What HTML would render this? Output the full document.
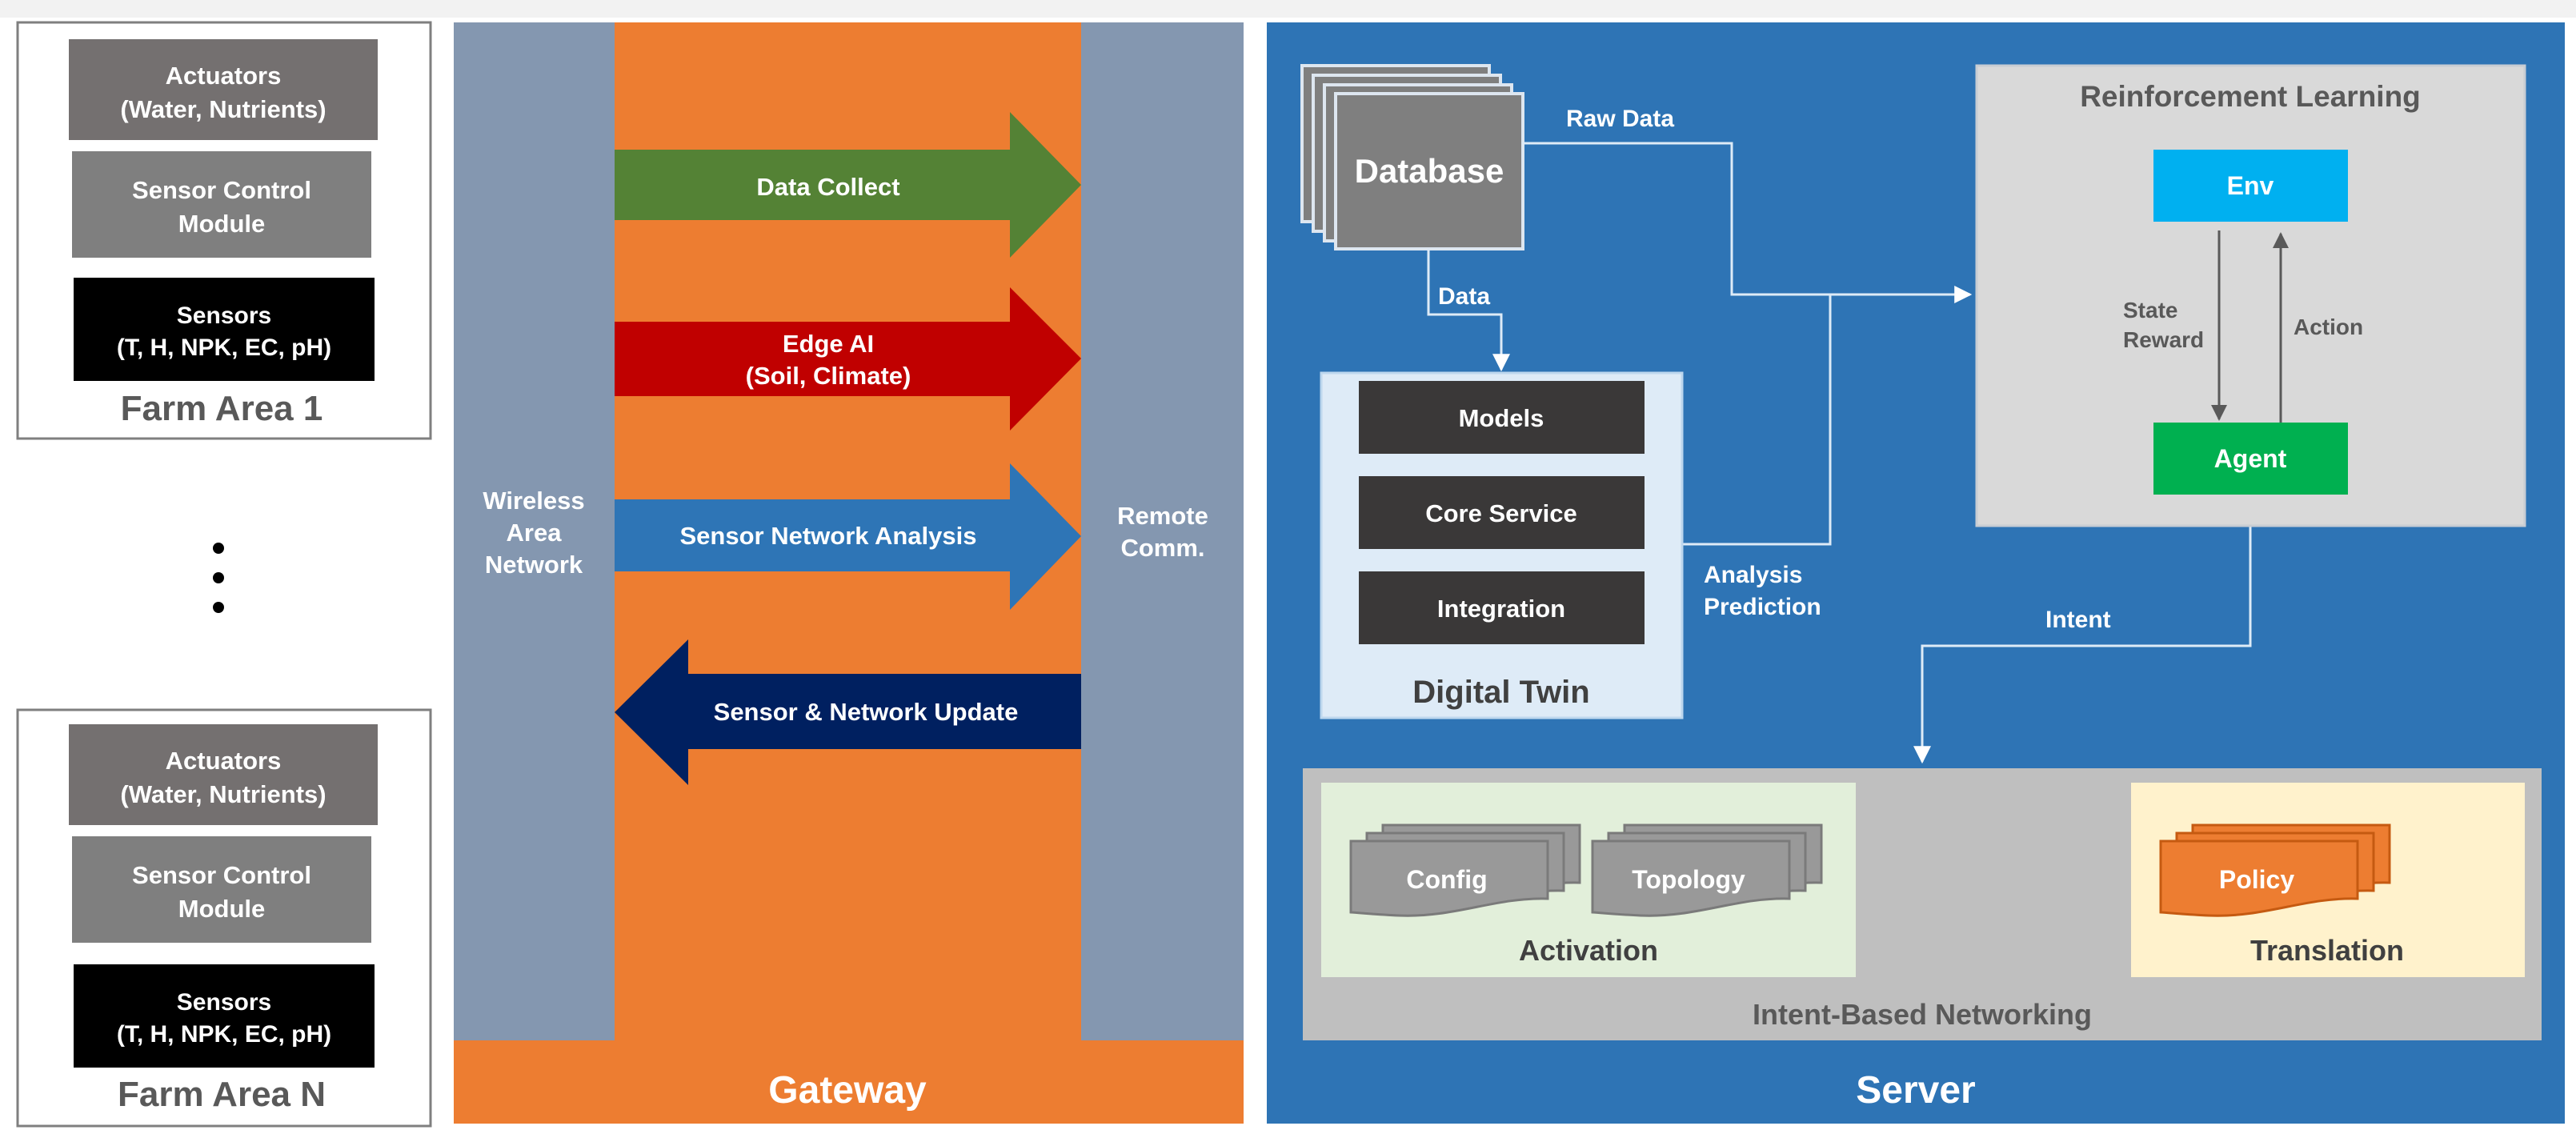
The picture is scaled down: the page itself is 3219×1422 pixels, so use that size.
<!DOCTYPE html>
<html><head><meta charset="utf-8"><style>
html,body{margin:0;padding:0;background:#fff;}
svg{display:block;}
text{font-family:"Liberation Sans","DejaVu Sans",sans-serif;font-weight:bold;}
</style></head><body>
<svg width="3219" height="1422" viewBox="0 0 3219 1422" xmlns="http://www.w3.org/2000/svg">
<defs>
<path id="doc" d="M0,0 H246 V72 C180,70 130,96 60,93 C35,92 15,90 0,89 Z"/>
<marker id="ah" markerWidth="10" markerHeight="10" refX="8" refY="5" orient="auto" markerUnits="userSpaceOnUse"><path d="M0,0 L10,5 L0,10 Z" fill="#fff"/></marker>
<marker id="ahw" viewBox="0 0 10 10" markerWidth="22" markerHeight="22" refX="9" refY="5" orient="auto" markerUnits="userSpaceOnUse"><path d="M0,0 L10,5 L0,10 Z" fill="#fff"/></marker>
<marker id="ahg" viewBox="0 0 10 10" markerWidth="20" markerHeight="20" refX="9" refY="5" orient="auto" markerUnits="userSpaceOnUse"><path d="M0,0 L10,5 L0,10 Z" fill="#595959"/></marker>
</defs>
<rect x="0" y="0" width="3219" height="22" fill="#f2f2f2"/>

<!-- Farm Area 1 -->
<rect x="22" y="28" width="516" height="520" fill="#fff" stroke="#7f7f7f" stroke-width="3"/>
<rect x="86" y="49" width="386" height="126" fill="#747070"/>
<text x="279" y="105" font-size="31" fill="#fff" text-anchor="middle">Actuators</text>
<text x="279" y="147" font-size="31" fill="#fff" text-anchor="middle">(Water, Nutrients)</text>
<rect x="90" y="189" width="374" height="133" fill="#7f7f7f"/>
<text x="277" y="248" font-size="31" fill="#fff" text-anchor="middle">Sensor Control</text>
<text x="277" y="290" font-size="31" fill="#fff" text-anchor="middle">Module</text>
<rect x="92" y="347" width="376" height="129" fill="#000"/>
<text x="280" y="404" font-size="30" fill="#fff" text-anchor="middle">Sensors</text>
<text x="280" y="444" font-size="30" fill="#fff" text-anchor="middle">(T, H, NPK, EC, pH)</text>
<text x="277" y="525" font-size="44" fill="#595959" text-anchor="middle">Farm Area 1</text>

<circle cx="273" cy="685" r="7" fill="#000"/>
<circle cx="273" cy="722" r="7" fill="#000"/>
<circle cx="273" cy="759" r="7" fill="#000"/>

<!-- Farm Area N -->
<rect x="22" y="887" width="516" height="520" fill="#fff" stroke="#7f7f7f" stroke-width="3"/>
<rect x="86" y="905" width="386" height="126" fill="#747070"/>
<text x="279" y="961" font-size="31" fill="#fff" text-anchor="middle">Actuators</text>
<text x="279" y="1003" font-size="31" fill="#fff" text-anchor="middle">(Water, Nutrients)</text>
<rect x="90" y="1045" width="374" height="133" fill="#7f7f7f"/>
<text x="277" y="1104" font-size="31" fill="#fff" text-anchor="middle">Sensor Control</text>
<text x="277" y="1146" font-size="31" fill="#fff" text-anchor="middle">Module</text>
<rect x="92" y="1205" width="376" height="129" fill="#000"/>
<text x="280" y="1262" font-size="30" fill="#fff" text-anchor="middle">Sensors</text>
<text x="280" y="1302" font-size="30" fill="#fff" text-anchor="middle">(T, H, NPK, EC, pH)</text>
<text x="277" y="1382" font-size="44" fill="#595959" text-anchor="middle">Farm Area N</text>

<!-- Gateway -->
<rect x="567" y="28" width="987" height="1376" fill="#ed7d31"/>
<rect x="567" y="28" width="201" height="1272" fill="#8497b0"/>
<rect x="1351" y="28" width="203" height="1272" fill="#8497b0"/>
<text x="667" y="636" font-size="31" fill="#fff" text-anchor="middle">Wireless</text>
<text x="667" y="676" font-size="31" fill="#fff" text-anchor="middle">Area</text>
<text x="667" y="716" font-size="31" fill="#fff" text-anchor="middle">Network</text>
<text x="1453" y="655" font-size="31" fill="#fff" text-anchor="middle">Remote</text>
<text x="1453" y="695" font-size="31" fill="#fff" text-anchor="middle">Comm.</text>
<text x="1059" y="1378" font-size="48" fill="#fff" text-anchor="middle">Gateway</text>

<polygon points="768,187 1262,187 1262,140 1351,231 1262,322 1262,275 768,275" fill="#548235"/>
<text x="1035" y="244" font-size="31" fill="#fff" text-anchor="middle">Data Collect</text>
<polygon points="768,402 1262,402 1262,359 1351,448 1262,538 1262,495 768,495" fill="#c00000"/>
<text x="1035" y="440" font-size="31" fill="#fff" text-anchor="middle">Edge AI</text>
<text x="1035" y="480" font-size="31" fill="#fff" text-anchor="middle">(Soil, Climate)</text>
<polygon points="768,624 1262,624 1262,579 1351,670 1262,762 1262,714 768,714" fill="#2e75b6"/>
<text x="1035" y="680" font-size="31" fill="#fff" text-anchor="middle">Sensor Network Analysis</text>
<polygon points="1351,842 860,842 860,799 768,890 860,981 860,936 1351,936" fill="#002060"/>
<text x="1082" y="900" font-size="31" fill="#fff" text-anchor="middle">Sensor &amp; Network Update</text>

<!-- Server -->
<rect x="1583" y="28" width="1622" height="1376" fill="#2e74b5"/>
<text x="2394" y="1378" font-size="48" fill="#fff" text-anchor="middle">Server</text>

<!-- Database stack -->
<g fill="#7f7f7f" stroke="#dde6f0" stroke-width="4">
<rect x="1627" y="82" width="234" height="195"/>
<rect x="1641" y="94" width="234" height="195"/>
<rect x="1655" y="106" width="234" height="195"/>
<rect x="1669" y="117" width="234" height="194"/>
</g>
<text x="1786" y="228" font-size="42" fill="#fff" text-anchor="middle">Database</text>

<!-- connectors -->
<g fill="none" stroke="#deebf7" stroke-width="3">
<polyline points="1903,179 2164,179 2164,368 2462,368" marker-end="url(#ahw)"/>
<polyline points="2102,680 2287,680 2287,368"/>
<polyline points="1785,311 1785,393 1876,393 1876,462" marker-end="url(#ahw)"/>
<polyline points="2812,657 2812,807 2402,807 2402,952" marker-end="url(#ahw)"/>
<line x1="2663" y1="1100" x2="2325" y2="1100" marker-end="url(#ahw)"/>
</g>
<text x="1957" y="158" font-size="30" fill="#fff">Raw Data</text>
<text x="1797" y="380" font-size="30" fill="#fff">Data</text>
<text x="2129" y="728" font-size="30" fill="#fff">Analysis</text>
<text x="2129" y="768" font-size="30" fill="#fff">Prediction</text>
<text x="2556" y="784" font-size="30" fill="#fff">Intent</text>

<!-- Digital Twin -->
<rect x="1651" y="466" width="451" height="431" fill="#deebf7" stroke="#bdd7ee" stroke-width="3"/>
<rect x="1698" y="476" width="357" height="91" fill="#3a3838"/>
<text x="1876" y="533" font-size="31" fill="#fff" text-anchor="middle">Models</text>
<rect x="1698" y="595" width="357" height="91" fill="#3a3838"/>
<text x="1876" y="652" font-size="31" fill="#fff" text-anchor="middle">Core Service</text>
<rect x="1698" y="714" width="357" height="91" fill="#3a3838"/>
<text x="1876" y="771" font-size="31" fill="#fff" text-anchor="middle">Integration</text>
<text x="1876" y="878" font-size="40" fill="#404040" text-anchor="middle">Digital Twin</text>

<!-- RL -->
<rect x="2470" y="82" width="685" height="575" fill="#d9d9d9" stroke="#c8cdd3" stroke-width="3"/>
<text x="2812" y="133" font-size="37" fill="#595959" text-anchor="middle">Reinforcement Learning</text>
<rect x="2691" y="187" width="243" height="90" fill="#00b0f0"/>
<text x="2812" y="243" font-size="32" fill="#fff" text-anchor="middle">Env</text>
<rect x="2691" y="528" width="243" height="90" fill="#00b050"/>
<text x="2812" y="584" font-size="32" fill="#fff" text-anchor="middle">Agent</text>
<line x1="2773" y1="288" x2="2773" y2="524" stroke="#595959" stroke-width="3" marker-end="url(#ahg)"/>
<line x1="2850" y1="528" x2="2850" y2="292" stroke="#595959" stroke-width="3" marker-end="url(#ahg)"/>
<text x="2653" y="397" font-size="28" fill="#595959" font-weight="normal">State</text>
<text x="2653" y="434" font-size="28" fill="#595959" font-weight="normal">Reward</text>
<text x="2866" y="418" font-size="28" fill="#595959" font-weight="normal">Action</text>

<!-- IBN -->
<rect x="1628" y="960" width="1548" height="340" fill="#bfbfbf"/>
<text x="2402" y="1280" font-size="36" fill="#595959" text-anchor="middle">Intent-Based Networking</text>
<rect x="1651" y="978" width="668" height="243" fill="#e2efda"/>
<rect x="2663" y="978" width="492" height="243" fill="#fff2cc"/>

<g fill="#999" stroke="#7a7a7a" stroke-width="3">
<use href="#doc" x="1728" y="1031"/>
<use href="#doc" x="1708" y="1041"/>
<use href="#doc" x="1688" y="1051"/>
<use href="#doc" x="2030" y="1031"/>
<use href="#doc" x="2010" y="1041"/>
<use href="#doc" x="1990" y="1051"/>
</g>
<g fill="#ed7d31" stroke="#c55a11" stroke-width="3">
<use href="#doc" x="2740" y="1031"/>
<use href="#doc" x="2720" y="1041"/>
<use href="#doc" x="2700" y="1051"/>
</g>
<text x="1808" y="1110" font-size="32" fill="#fff" text-anchor="middle">Config</text>
<text x="2110" y="1110" font-size="32" fill="#fff" text-anchor="middle">Topology</text>
<text x="2820" y="1110" font-size="32" fill="#fff" text-anchor="middle">Policy</text>
<text x="1985" y="1200" font-size="36" fill="#404040" text-anchor="middle">Activation</text>
<text x="2908" y="1200" font-size="36" fill="#404040" text-anchor="middle">Translation</text>
</svg>
</body></html>
